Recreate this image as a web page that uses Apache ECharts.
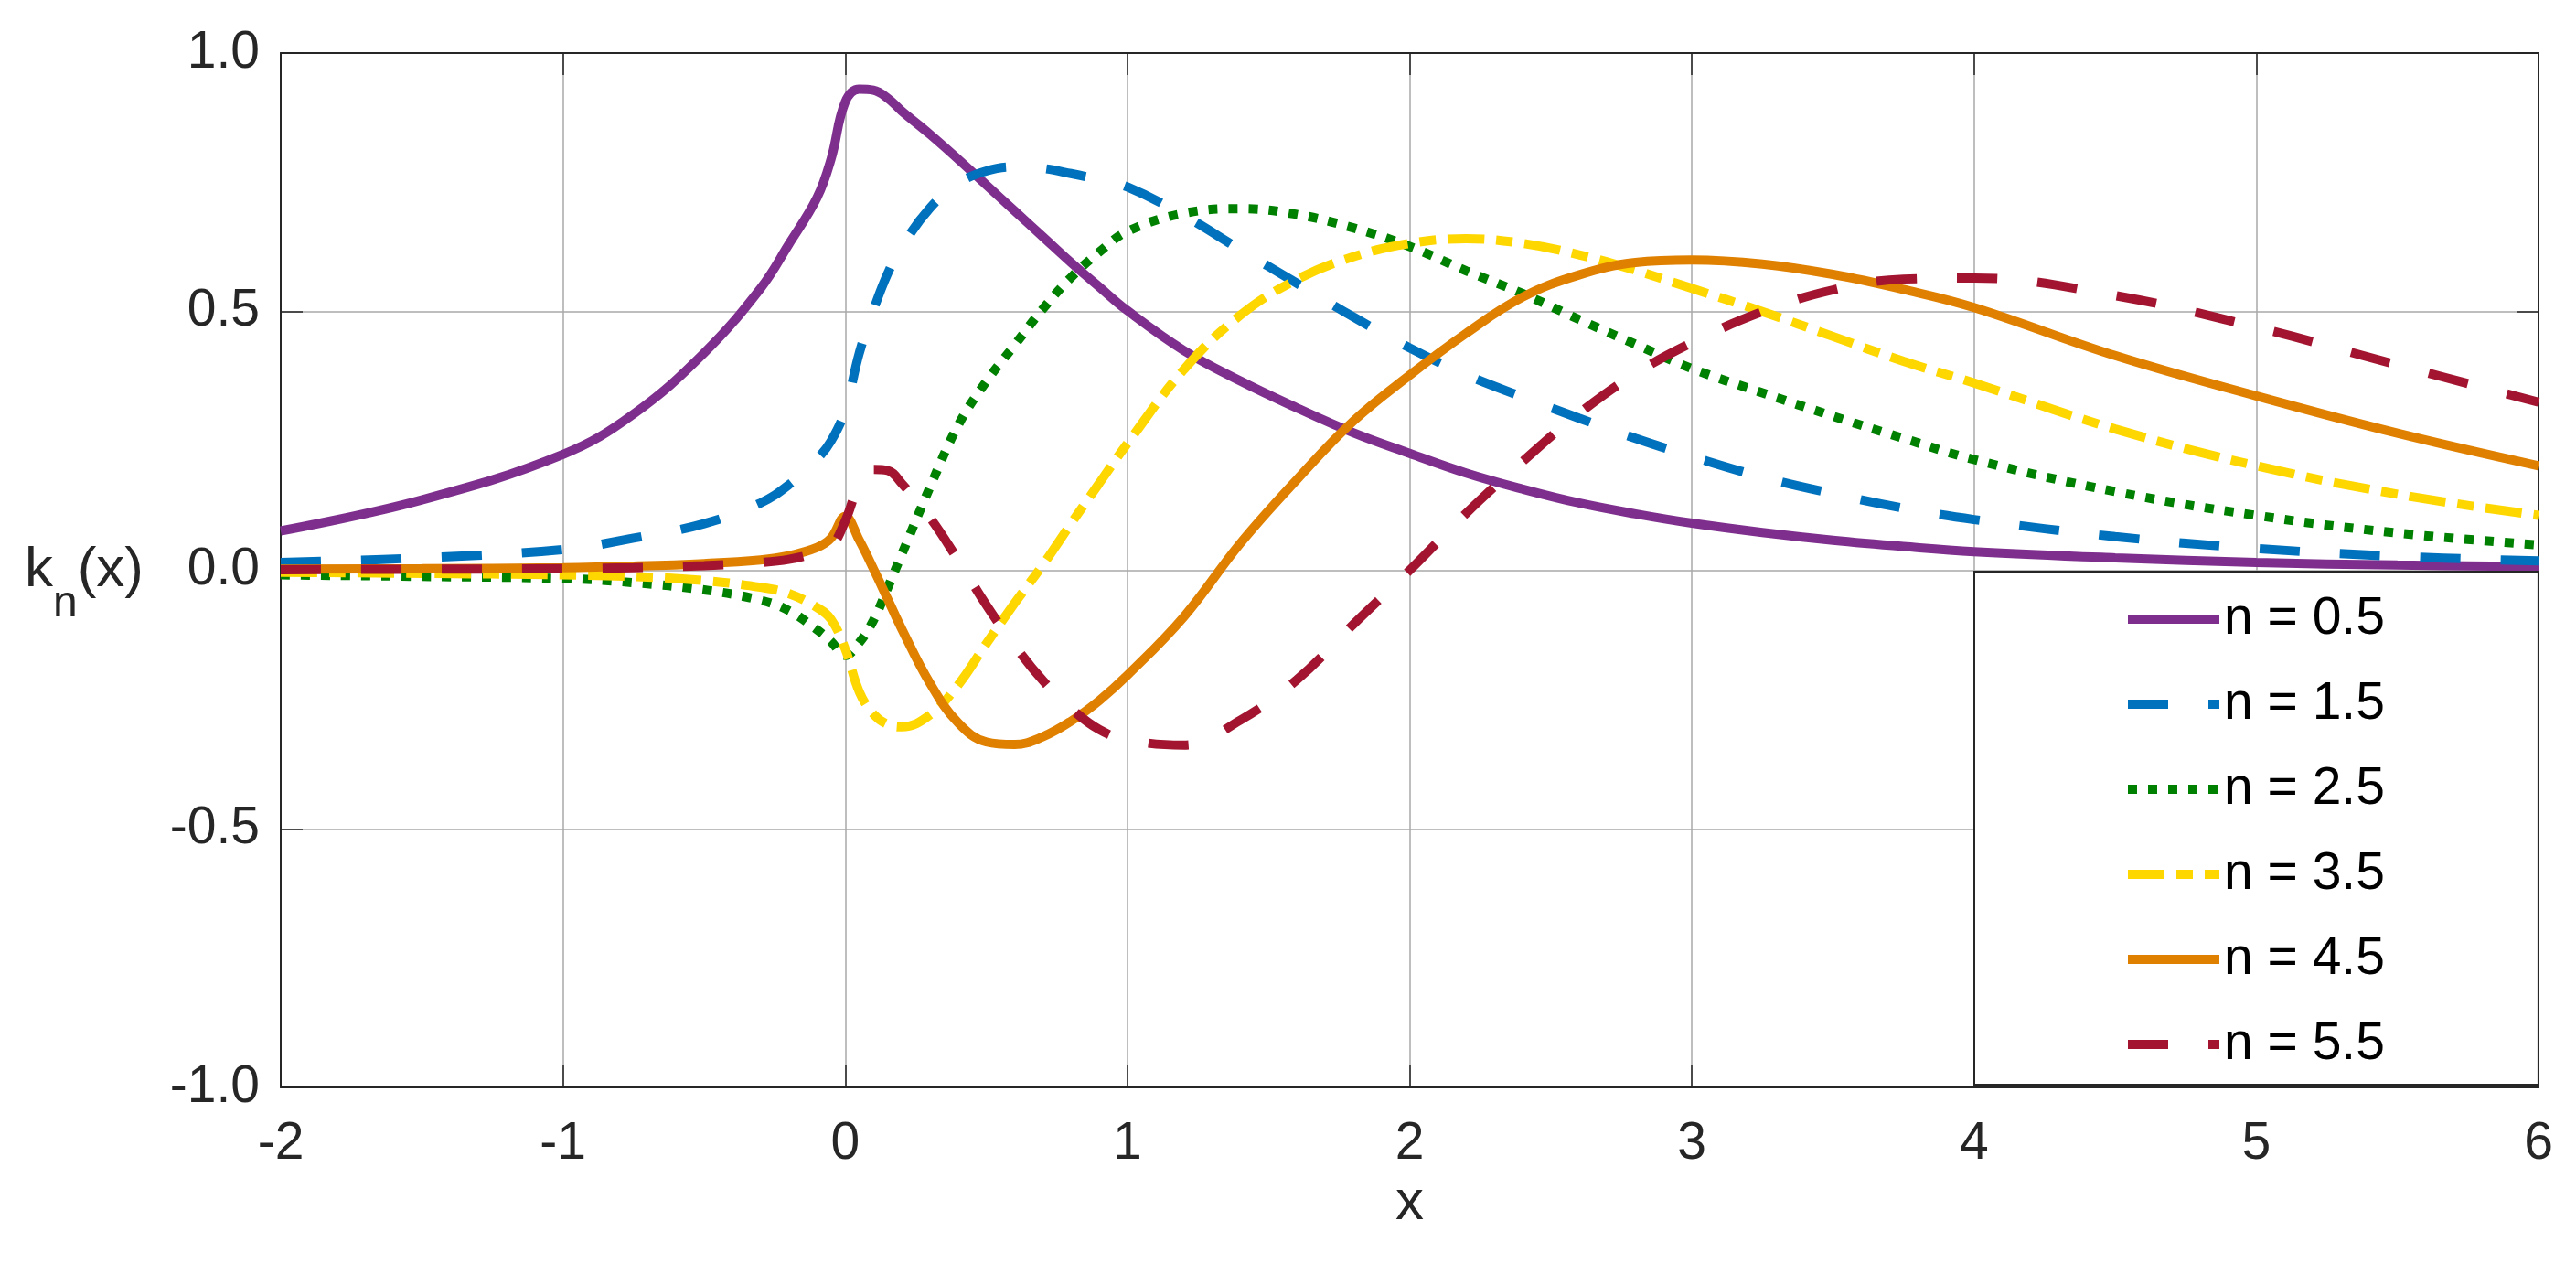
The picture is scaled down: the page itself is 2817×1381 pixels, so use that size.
<!DOCTYPE html>
<html>
<head>
<meta charset="utf-8">
<script src="https://cdn.jsdelivr.net/npm/echarts@6/dist/echarts.min.js"></script>
<style>
  html, body { margin: 0; padding: 0; background: #fff; }
  #chart { width: 2817px; height: 1381px; }
</style>
</head>
<body>
<div id="chart"></div>
<script>
var xs = [-2, -1.5, -1, -0.75, -0.5, -0.3, -0.2, -0.1, -0.05, 0,
          0.05, 0.1, 0.15, 0.2, 0.3, 0.4, 0.5, 0.6, 0.7, 0.8,
          0.9, 1.0, 1.2, 1.4, 1.6, 1.8, 2.0, 2.2, 2.4, 2.6,
          2.8, 3.0, 3.25, 3.5, 3.75, 4.0, 4.5, 5.0, 5.5, 6.0];

var k05 = [0.076, 0.136, 0.224, 0.302, 0.42, 0.545, 0.63, 0.72, 0.795, 0.905,
           0.93, 0.928, 0.913, 0.888, 0.843, 0.795, 0.745, 0.695, 0.645, 0.595,
           0.548, 0.502, 0.425, 0.366, 0.314, 0.266, 0.226, 0.188, 0.157, 0.13,
           0.109, 0.091, 0.073, 0.058, 0.046, 0.036, 0.024, 0.015, 0.010, 0.007];

var k15 = [0.015, 0.024, 0.040, 0.062, 0.09, 0.13, 0.165, 0.215, 0.25, 0.31,
           0.42, 0.503, 0.573, 0.625, 0.70, 0.748, 0.772, 0.78, 0.777, 0.767,
           0.755, 0.741, 0.686, 0.62, 0.555, 0.49, 0.43, 0.378, 0.335, 0.294,
           0.255, 0.22, 0.18, 0.148, 0.12, 0.098, 0.065, 0.042, 0.027, 0.018];

var k25 = [-0.009, -0.012, -0.016, -0.024, -0.038, -0.058, -0.078, -0.115, -0.138, -0.165,
           -0.14, -0.097, -0.035, 0.03, 0.16, 0.28, 0.365, 0.435, 0.505, 0.566,
           0.615, 0.655, 0.69, 0.699, 0.688, 0.662, 0.626, 0.579, 0.535, 0.485,
           0.437, 0.39, 0.343, 0.298, 0.255, 0.214, 0.152, 0.106, 0.072, 0.049];

var k35 = [-0.004, -0.006, -0.009, -0.012, -0.02, -0.033, -0.045, -0.072, -0.095, -0.152,
           -0.235, -0.278, -0.298, -0.303, -0.28, -0.222, -0.142, -0.064, 0.01, 0.09,
           0.168, 0.245, 0.388, 0.493, 0.562, 0.606, 0.632, 0.641, 0.632, 0.61,
           0.58, 0.545, 0.50, 0.452, 0.404, 0.362, 0.273, 0.202, 0.147, 0.106];

var k45 = [0.002, 0.003, 0.005, 0.008, 0.013, 0.02, 0.028, 0.044, 0.062, 0.104,
           0.058, 0.003, -0.055, -0.113, -0.218, -0.295, -0.332, -0.337, -0.322, -0.292,
           -0.252, -0.203, -0.09, 0.052, 0.175, 0.288, 0.377, 0.458, 0.528, 0.571,
           0.595, 0.60, 0.592, 0.572, 0.543, 0.508, 0.415, 0.337, 0.265, 0.202];

var k55 = [0.001, 0.002, 0.003, 0.005, 0.009, 0.015, 0.021, 0.034, 0.045, 0.095,
           0.165, 0.195, 0.193, 0.168, 0.102, 0.02, -0.067, -0.145, -0.213, -0.267,
           -0.308, -0.328, -0.338, -0.29, -0.212, -0.105, 0.0, 0.11, 0.21, 0.303,
           0.38, 0.44, 0.50, 0.542, 0.563, 0.565, 0.531, 0.47, 0.397, 0.325];

var names = ['n = 0.5', 'n = 1.5', 'n = 2.5', 'n = 3.5', 'n = 4.5', 'n = 5.5'];
var colors = ['#7E2F8E', '#0072BD', '#008000', '#FFD700', '#E08000', '#A2142F'];
var dashes = ['solid', [44, 44], [10, 12], [40, 13, 18, 13], 'solid', [44, 44]];
var values = [k05, k15, k25, k35, k45, k55];

var font = 'Liberation Sans, Arial, Helvetica, sans-serif';

var dom = document.getElementById('chart');
var chart = echarts.init(dom, null, { renderer: 'canvas' });

var series = values.map(function (ys, i) {
    return {
        name: names[i],
        type: 'line',
        data: xs.map(function (x, j) { return [x, ys[j]]; }),
        symbol: 'none',
        smooth: 0.4,
        xAxisIndex: 0,
        yAxisIndex: 0,
        lineStyle: { color: colors[i], width: 10, type: dashes[i], cap: 'butt' },
        itemStyle: { color: colors[i] },
        z: 3 + i
    };
});

var tickStyle = { inside: true, length: 24, lineStyle: { color: '#262626', width: 1.5 } };
var lineStyle = { show: true, onZero: false, lineStyle: { color: '#262626', width: 2 } };
var gridLine = { show: true, lineStyle: { color: '#a8a8a8', width: 1.5 } };

var option = {
    animation: false,
    backgroundColor: '#fff',
    grid: { left: 307, right: 41, top: 58, bottom: 192, containLabel: false },
    legend: {
        data: names,
        orient: 'vertical',
        left: 2159,
        top: 625,
        padding: [22, 168, 14, 163],
        itemGap: 33,
        itemWidth: 100,
        itemHeight: 20,
        selectedMode: false,
        backgroundColor: '#fff',
        borderColor: '#262626',
        borderWidth: 2,
        borderRadius: 0,
        itemStyle: { opacity: 0 },
        lineStyle: { width: 10 },
        textStyle: { fontSize: 57, lineHeight: 60, color: '#000', fontFamily: font }
    },
    xAxis: [
        {
            type: 'value', position: 'bottom', min: -2, max: 6, interval: 1,
            name: 'x', nameLocation: 'middle', nameGap: 96,
            nameTextStyle: { fontSize: 62, color: '#262626', fontFamily: font },
            axisLine: lineStyle, axisTick: tickStyle, splitLine: gridLine,
            axisLabel: { fontSize: 57, color: '#262626', fontFamily: font, margin: 34 }
        },
        {
            type: 'value', position: 'top', min: -2, max: 6, interval: 1,
            axisLine: lineStyle, axisTick: tickStyle, splitLine: { show: false },
            axisLabel: { show: false }
        }
    ],
    yAxis: [
        {
            type: 'value', position: 'left', min: -1, max: 1, interval: 0.5,
            name: '{a|k}{b|n}{a|(x)}', nameLocation: 'middle', nameGap: 150, nameRotate: 0,
            nameTextStyle: {
                color: '#262626', fontFamily: font,
                rich: {
                    a: { fontSize: 62, lineHeight: 62, color: '#262626', fontFamily: font, verticalAlign: 'top' },
                    b: { fontSize: 48, lineHeight: 48, color: '#262626', fontFamily: font, verticalAlign: 'top', padding: [44, 0, 0, 0] }
                }
            },
            axisLine: lineStyle, axisTick: tickStyle, splitLine: gridLine,
            axisLabel: {
                fontSize: 57, color: '#262626', fontFamily: font, margin: 23,
                formatter: function (v) { return v.toFixed(1); }
            }
        },
        {
            type: 'value', position: 'right', min: -1, max: 1, interval: 0.5,
            axisLine: lineStyle, axisTick: tickStyle, splitLine: { show: false },
            axisLabel: { show: false }
        }
    ],
    series: series
};

chart.setOption(option);
</script>
</body>
</html>
